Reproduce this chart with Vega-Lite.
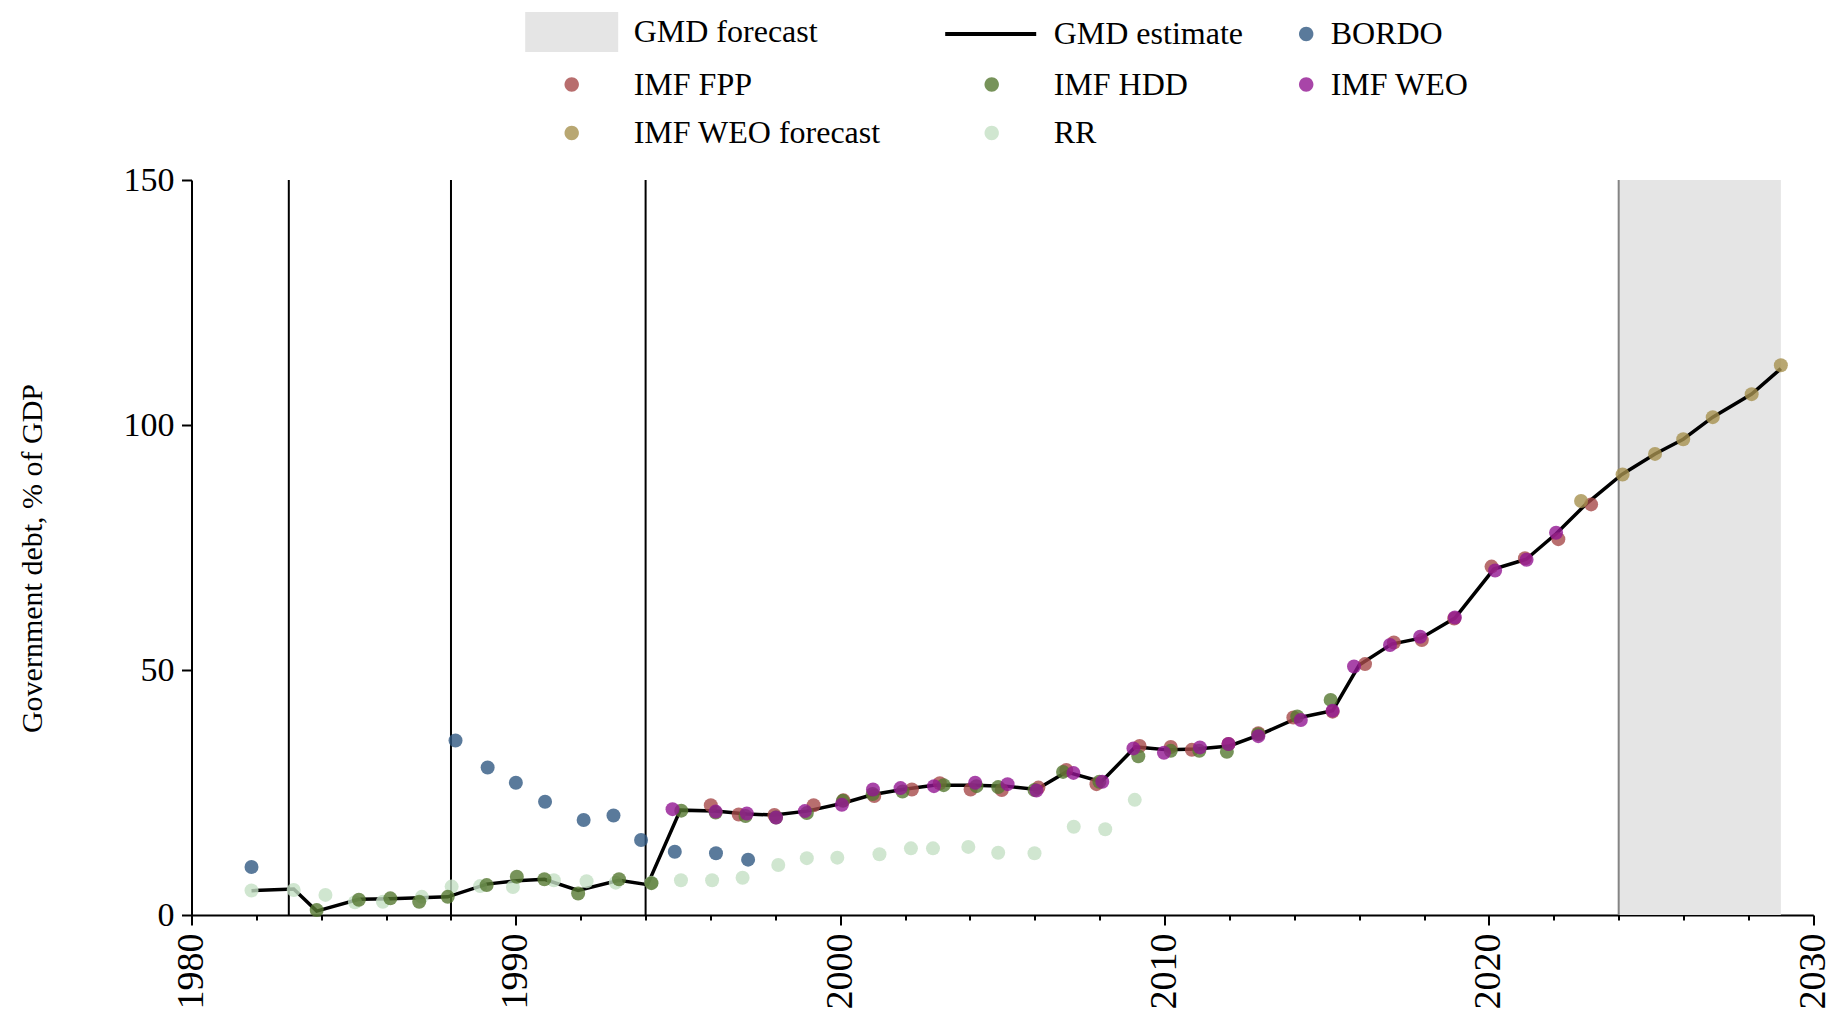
{
  "$schema": "https://vega.github.io/schema/vega-lite/v6.json",
  "width": 1621.8,
  "height": 735,
  "autosize": {"type": "none"},
  "padding": {"left": 191.5, "top": 180, "right": 23.7, "bottom": 102},
  "background": "white",
  "config": {
    "font": "Liberation Serif",
    "view": {"stroke": null},
    "axis": {
      "grid": false,
      "domainColor": "#000000",
      "domainWidth": 2,
      "tickColor": "#000000",
      "tickWidth": 2,
      "labelColor": "#000000",
      "titleColor": "#000000",
      "labelFont": "Liberation Serif",
      "titleFont": "Liberation Serif",
      "titleFontWeight": "normal"
    },
    "legend": {"labelFont": "Liberation Serif"}
  },
  "datasets": {
    "shade": [{"series": "GMD forecast", "start": 2024, "end": 2029}],
    "breaks": [{"year": 1983}, {"year": 1988}, {"year": 1994}],
    "fcstart": [{"year": 2024}],
    "gmd": [
      {"series": "GMD estimate", "year": 1981.85, "value": 4.96},
      {"series": "GMD estimate", "year": 1983.15, "value": 5.3},
      {"series": "GMD estimate", "year": 1983.86, "value": 0.8},
      {"series": "GMD estimate", "year": 1985.16, "value": 3.2},
      {"series": "GMD estimate", "year": 1986.13, "value": 3.3},
      {"series": "GMD estimate", "year": 1987.04, "value": 3.5},
      {"series": "GMD estimate", "year": 1987.9, "value": 3.7},
      {"series": "GMD estimate", "year": 1989.1, "value": 6.3},
      {"series": "GMD estimate", "year": 1990.03, "value": 7.0},
      {"series": "GMD estimate", "year": 1990.88, "value": 7.3},
      {"series": "GMD estimate", "year": 1991.92, "value": 5.0},
      {"series": "GMD estimate", "year": 1993.18, "value": 7.1},
      {"series": "GMD estimate", "year": 1994.06, "value": 6.2},
      {"series": "GMD estimate", "year": 1995.07, "value": 21.4},
      {"series": "GMD estimate", "year": 1996.14, "value": 21.2},
      {"series": "GMD estimate", "year": 1997.12, "value": 20.6},
      {"series": "GMD estimate", "year": 1997.97, "value": 20.4},
      {"series": "GMD estimate", "year": 1998.97, "value": 21.2},
      {"series": "GMD estimate", "year": 2000.08, "value": 22.8},
      {"series": "GMD estimate", "year": 2001.01, "value": 24.6},
      {"series": "GMD estimate", "year": 2001.92, "value": 25.6},
      {"series": "GMD estimate", "year": 2002.89, "value": 26.5},
      {"series": "GMD estimate", "year": 2004.1, "value": 26.5},
      {"series": "GMD estimate", "year": 2005.1, "value": 26.3},
      {"series": "GMD estimate", "year": 2006.05, "value": 25.6},
      {"series": "GMD estimate", "year": 2006.97, "value": 29.2},
      {"series": "GMD estimate", "year": 2008.05, "value": 27.2},
      {"series": "GMD estimate", "year": 2009.1, "value": 34.3},
      {"series": "GMD estimate", "year": 2010.1, "value": 33.7},
      {"series": "GMD estimate", "year": 2011.0, "value": 33.9},
      {"series": "GMD estimate", "year": 2012.0, "value": 34.5},
      {"series": "GMD estimate", "year": 2012.9, "value": 36.7},
      {"series": "GMD estimate", "year": 2014.1, "value": 40.2},
      {"series": "GMD estimate", "year": 2015.18, "value": 41.7},
      {"series": "GMD estimate", "year": 2016.0, "value": 51.0},
      {"series": "GMD estimate", "year": 2017.0, "value": 55.3},
      {"series": "GMD estimate", "year": 2017.9, "value": 56.5},
      {"series": "GMD estimate", "year": 2018.95, "value": 60.6},
      {"series": "GMD estimate", "year": 2020.15, "value": 70.6},
      {"series": "GMD estimate", "year": 2021.15, "value": 72.6},
      {"series": "GMD estimate", "year": 2022.07, "value": 77.8},
      {"series": "GMD estimate", "year": 2023.0, "value": 83.9},
      {"series": "GMD estimate", "year": 2024.1, "value": 89.9},
      {"series": "GMD estimate", "year": 2025.12, "value": 94.1},
      {"series": "GMD estimate", "year": 2025.99, "value": 97.1},
      {"series": "GMD estimate", "year": 2026.9, "value": 101.6},
      {"series": "GMD estimate", "year": 2028.1, "value": 106.3},
      {"series": "GMD estimate", "year": 2029.0, "value": 111.5}
    ],
    "pts": [
      {"series": "BORDO", "year": 1981.85, "value": 9.8},
      {"series": "BORDO", "year": 1988.14, "value": 35.6},
      {"series": "BORDO", "year": 1989.13, "value": 30.1},
      {"series": "BORDO", "year": 1990.0, "value": 27.0},
      {"series": "BORDO", "year": 1990.9, "value": 23.1},
      {"series": "BORDO", "year": 1992.09, "value": 19.4},
      {"series": "BORDO", "year": 1993.01, "value": 20.3},
      {"series": "BORDO", "year": 1993.86, "value": 15.3},
      {"series": "BORDO", "year": 1994.9, "value": 12.9},
      {"series": "BORDO", "year": 1996.17, "value": 12.6},
      {"series": "BORDO", "year": 1997.16, "value": 11.3},
      {"series": "RR", "year": 1981.85, "value": 5.0},
      {"series": "RR", "year": 1983.15, "value": 5.1},
      {"series": "RR", "year": 1984.13, "value": 4.1},
      {"series": "RR", "year": 1985.04, "value": 2.6},
      {"series": "RR", "year": 1985.9, "value": 2.7},
      {"series": "RR", "year": 1987.1, "value": 3.7},
      {"series": "RR", "year": 1988.02, "value": 5.8},
      {"series": "RR", "year": 1988.9, "value": 5.9},
      {"series": "RR", "year": 1989.91, "value": 5.7},
      {"series": "RR", "year": 1991.17, "value": 7.1},
      {"series": "RR", "year": 1992.18, "value": 6.9},
      {"series": "RR", "year": 1993.08, "value": 6.6},
      {"series": "RR", "year": 1994.18, "value": 6.6},
      {"series": "RR", "year": 1995.09, "value": 7.1},
      {"series": "RR", "year": 1996.05, "value": 7.1},
      {"series": "RR", "year": 1996.99, "value": 7.6},
      {"series": "RR", "year": 1998.09, "value": 10.2},
      {"series": "RR", "year": 1998.97, "value": 11.6},
      {"series": "RR", "year": 1999.91, "value": 11.7},
      {"series": "RR", "year": 2001.21, "value": 12.4},
      {"series": "RR", "year": 2002.18, "value": 13.6},
      {"series": "RR", "year": 2002.86, "value": 13.6},
      {"series": "RR", "year": 2003.95, "value": 13.9},
      {"series": "RR", "year": 2004.87, "value": 12.7},
      {"series": "RR", "year": 2005.99, "value": 12.6},
      {"series": "RR", "year": 2007.2, "value": 18.0},
      {"series": "RR", "year": 2008.17, "value": 17.5},
      {"series": "RR", "year": 2009.08, "value": 23.5},
      {"series": "IMF FPP", "year": 1996.01, "value": 22.4},
      {"series": "IMF FPP", "year": 1996.87, "value": 20.5},
      {"series": "IMF FPP", "year": 1997.97, "value": 20.4},
      {"series": "IMF FPP", "year": 1999.18, "value": 22.4},
      {"series": "IMF FPP", "year": 2000.1, "value": 23.4},
      {"series": "IMF FPP", "year": 2001.05, "value": 24.3},
      {"series": "IMF FPP", "year": 2002.21, "value": 25.6},
      {"series": "IMF FPP", "year": 2003.07, "value": 26.9},
      {"series": "IMF FPP", "year": 2004.02, "value": 25.6},
      {"series": "IMF FPP", "year": 2004.98, "value": 25.5},
      {"series": "IMF FPP", "year": 2006.11, "value": 26.0},
      {"series": "IMF FPP", "year": 2006.97, "value": 29.6},
      {"series": "IMF FPP", "year": 2007.9, "value": 26.7},
      {"series": "IMF FPP", "year": 2009.23, "value": 34.5},
      {"series": "IMF FPP", "year": 2010.19, "value": 34.3},
      {"series": "IMF FPP", "year": 2010.84, "value": 33.7},
      {"series": "IMF FPP", "year": 2011.97, "value": 34.9},
      {"series": "IMF FPP", "year": 2012.89, "value": 37.1},
      {"series": "IMF FPP", "year": 2013.97, "value": 40.3},
      {"series": "IMF FPP", "year": 2015.18, "value": 41.5},
      {"series": "IMF FPP", "year": 2016.18, "value": 51.2},
      {"series": "IMF FPP", "year": 2017.07, "value": 55.6},
      {"series": "IMF FPP", "year": 2017.93, "value": 56.1},
      {"series": "IMF FPP", "year": 2018.93, "value": 60.5},
      {"series": "IMF FPP", "year": 2020.08, "value": 71.1},
      {"series": "IMF FPP", "year": 2021.11, "value": 72.8},
      {"series": "IMF FPP", "year": 2022.14, "value": 76.7},
      {"series": "IMF FPP", "year": 2023.15, "value": 83.8},
      {"series": "IMF HDD", "year": 1983.86, "value": 1.0},
      {"series": "IMF HDD", "year": 1985.16, "value": 3.1},
      {"series": "IMF HDD", "year": 1986.13, "value": 3.4},
      {"series": "IMF HDD", "year": 1987.02, "value": 2.7},
      {"series": "IMF HDD", "year": 1987.9, "value": 3.7},
      {"series": "IMF HDD", "year": 1989.1, "value": 6.1},
      {"series": "IMF HDD", "year": 1990.03, "value": 7.8},
      {"series": "IMF HDD", "year": 1990.88, "value": 7.3},
      {"series": "IMF HDD", "year": 1991.92, "value": 4.4},
      {"series": "IMF HDD", "year": 1993.18, "value": 7.3},
      {"series": "IMF HDD", "year": 1994.18, "value": 6.5},
      {"series": "IMF HDD", "year": 1995.1, "value": 21.3},
      {"series": "IMF HDD", "year": 1996.16, "value": 20.9},
      {"series": "IMF HDD", "year": 1997.08, "value": 20.2},
      {"series": "IMF HDD", "year": 1998.02, "value": 19.9},
      {"series": "IMF HDD", "year": 1998.97, "value": 20.8},
      {"series": "IMF HDD", "year": 2000.08, "value": 23.3},
      {"series": "IMF HDD", "year": 2001.0, "value": 24.7},
      {"series": "IMF HDD", "year": 2001.92, "value": 25.2},
      {"series": "IMF HDD", "year": 2003.19, "value": 26.5},
      {"series": "IMF HDD", "year": 2004.2, "value": 26.3},
      {"series": "IMF HDD", "year": 2004.87, "value": 26.1},
      {"series": "IMF HDD", "year": 2005.99, "value": 25.5},
      {"series": "IMF HDD", "year": 2006.87, "value": 29.2},
      {"series": "IMF HDD", "year": 2007.99, "value": 27.2},
      {"series": "IMF HDD", "year": 2009.19, "value": 32.4},
      {"series": "IMF HDD", "year": 2010.19, "value": 33.5},
      {"series": "IMF HDD", "year": 2011.07, "value": 33.5},
      {"series": "IMF HDD", "year": 2011.92, "value": 33.3},
      {"series": "IMF HDD", "year": 2012.89, "value": 36.9},
      {"series": "IMF HDD", "year": 2014.09, "value": 40.5},
      {"series": "IMF HDD", "year": 2015.12, "value": 43.9},
      {"series": "IMF WEO", "year": 1994.83, "value": 21.6},
      {"series": "IMF WEO", "year": 1996.16, "value": 21.1},
      {"series": "IMF WEO", "year": 1997.12, "value": 20.7},
      {"series": "IMF WEO", "year": 1998.02, "value": 19.9},
      {"series": "IMF WEO", "year": 1998.91, "value": 21.2},
      {"series": "IMF WEO", "year": 2000.05, "value": 22.5},
      {"series": "IMF WEO", "year": 2001.01, "value": 25.6},
      {"series": "IMF WEO", "year": 2001.86, "value": 25.9},
      {"series": "IMF WEO", "year": 2002.89, "value": 26.3},
      {"series": "IMF WEO", "year": 2004.16, "value": 27.0},
      {"series": "IMF WEO", "year": 2005.16, "value": 26.7},
      {"series": "IMF WEO", "year": 2006.05, "value": 25.4},
      {"series": "IMF WEO", "year": 2007.19, "value": 29.0},
      {"series": "IMF WEO", "year": 2008.08, "value": 27.2},
      {"series": "IMF WEO", "year": 2009.04, "value": 34.0},
      {"series": "IMF WEO", "year": 2009.98, "value": 33.1},
      {"series": "IMF WEO", "year": 2011.09, "value": 34.2},
      {"series": "IMF WEO", "year": 2011.97, "value": 34.9},
      {"series": "IMF WEO", "year": 2012.89, "value": 36.5},
      {"series": "IMF WEO", "year": 2014.2, "value": 39.8},
      {"series": "IMF WEO", "year": 2015.18, "value": 41.7},
      {"series": "IMF WEO", "year": 2015.84, "value": 50.7},
      {"series": "IMF WEO", "year": 2016.95, "value": 55.1},
      {"series": "IMF WEO", "year": 2017.88, "value": 56.8},
      {"series": "IMF WEO", "year": 2018.95, "value": 60.7},
      {"series": "IMF WEO", "year": 2020.19, "value": 70.3},
      {"series": "IMF WEO", "year": 2021.16, "value": 72.5},
      {"series": "IMF WEO", "year": 2022.07, "value": 78.0},
      {"series": "IMF WEO forecast", "year": 2022.84, "value": 84.5},
      {"series": "IMF WEO forecast", "year": 2024.12, "value": 89.9},
      {"series": "IMF WEO forecast", "year": 2025.12, "value": 94.1},
      {"series": "IMF WEO forecast", "year": 2025.99, "value": 97.1},
      {"series": "IMF WEO forecast", "year": 2026.9, "value": 101.6},
      {"series": "IMF WEO forecast", "year": 2028.1, "value": 106.3},
      {"series": "IMF WEO forecast", "year": 2029.0, "value": 112.2}
    ]
  },
  "layer": [
    {
      "data": {"name": "shade"},
      "mark": {"type": "rect"},
      "encoding": {
        "x": {"field": "start", "type": "quantitative", "title": null, "scale": {"domain": [1980, 2030], "nice": false, "zero": false}},
        "x2": {"field": "end"},
        "y": {"datum": 0, "type": "quantitative"},
        "y2": {"datum": 150},
        "color": {
          "field": "series", "type": "nominal",
          "scale": {
            "domain": ["GMD forecast", "GMD estimate", "BORDO", "IMF FPP", "IMF HDD", "IMF WEO", "IMF WEO forecast", "RR"],
            "range": ["#e5e5e5", "#000000", "#315982", "#a64a4a", "#557831", "#921692", "#a6914f", "#c4e0c4"]
          },
          "legend": {
            "title": null,
            "orient": "none",
            "legendX": 339.2,
            "legendY": -164,
            "columns": 3,
            "direction": "horizontal",
            "padding": 0,
            "symbolSize": 1600,
            "symbolStrokeWidth": 3,
            "labelFont": "Liberation Serif",
            "labelFontSize": 32,
            "labelColor": "#000000",
            "labelOffset": 60,
            "labelLimit": 0,
            "columnPadding": 55,
            "rowPadding": 16.5,
            "encode": {
              "entries": {
                "update": {
                  "height": {"value": 43}
                }
              },
              "symbols": {
                "update": {
                  "shape": {"signal": "datum.value === 'GMD forecast' ? 'M-1.075,-1H3.575V1H-1.075Z' : datum.value === 'GMD estimate' ? 'M-1.075,0H3.475' : (datum.value === 'BORDO' || datum.value === 'IMF WEO') ? 'M-0.715,0A0.36,0.36,0,1,1,-1.435,0A0.36,0.36,0,1,1,-0.715,0Z' : 'M1.61,0A0.36,0.36,0,1,1,0.89,0A0.36,0.36,0,1,1,1.61,0Z'"},
                  "size": {"value": 1600},
                  "fill": {"signal": "datum.value === 'GMD estimate' ? 'transparent' : scale('color', datum.value)"},
                  "stroke": {"signal": "datum.value === 'GMD estimate' ? '#000000' : 'transparent'"},
                  "strokeWidth": {"signal": "datum.value === 'GMD estimate' ? 4 : 0"},
                  "opacity": {"signal": "(datum.value === 'GMD forecast' || datum.value === 'GMD estimate') ? 1 : 0.8"},
                  "fillOpacity": {"value": 1},
                  "strokeOpacity": {"value": 1}
                }
              },
              "labels": {
                "update": {
                  "x": {"signal": "(datum.value === 'BORDO' || datum.value === 'IMF WEO') ? 19 : 103"},
                  "font": {"value": "Liberation Serif"}
                }
              }
            }
          }
        }
      }
    },
    {
      "data": {"name": "breaks"},
      "mark": {"type": "rule", "color": "#000000", "strokeWidth": 2},
      "encoding": {
        "x": {"field": "year", "type": "quantitative", "title": null},
        "y": {"datum": 0, "type": "quantitative"},
        "y2": {"datum": 150}
      }
    },
    {
      "data": {"name": "fcstart"},
      "mark": {"type": "rule", "color": "#858585", "strokeWidth": 2},
      "encoding": {
        "x": {"field": "year", "type": "quantitative", "title": null},
        "y": {"datum": 0, "type": "quantitative"},
        "y2": {"datum": 150}
      }
    },
    {
      "data": {"name": "gmd"},
      "mark": {"type": "line", "strokeWidth": 3.5},
      "encoding": {
        "x": {
          "field": "year", "type": "quantitative", "title": null,
          "scale": {"domain": [1980, 2030], "nice": false, "zero": false},
          "axis": {
            "title": null,
            "values": [1980,1981,1982,1983,1984,1985,1986,1987,1988,1989,1990,1991,1992,1993,1994,1995,1996,1997,1998,1999,2000,2001,2002,2003,2004,2005,2006,2007,2008,2009,2010,2011,2012,2013,2014,2015,2016,2017,2018,2019,2020,2021,2022,2023,2024,2025,2026,2027,2028,2029,2030],
            "format": "d",
            "labelExpr": "datum.value % 10 === 0 ? datum.label : ''",
            "labelAngle": -90,
            "labelFontSize": 38,
            "labelPadding": 8,
            "labelFlush": false,
            "labelOverlap": false,
            "tickSize": {"condition": {"test": "datum.value % 10 === 0", "value": 10}, "value": 5}
          }
        },
        "y": {
          "field": "value", "type": "quantitative", "title": "Government debt, % of GDP",
          "scale": {"domain": [0, 150], "nice": false},
          "axis": {
            "values": [0, 50, 100, 150],
            "tickSize": 10,
            "labelPadding": 7.5,
            "labelFontSize": 34,
            "titleFontSize": 30,
            "titlePadding": 76,
            "titleY": 378
          }
        },
        "color": {
          "field": "series", "type": "nominal",
          "scale": {
            "domain": ["GMD forecast", "GMD estimate", "BORDO", "IMF FPP", "IMF HDD", "IMF WEO", "IMF WEO forecast", "RR"],
            "range": ["#e5e5e5", "#000000", "#315982", "#a64a4a", "#557831", "#921692", "#a6914f", "#c4e0c4"]
          }
        }
      }
    },
    {
      "data": {"name": "pts"},
      "mark": {"type": "circle", "size": 196, "opacity": 0.8},
      "encoding": {
        "x": {"field": "year", "type": "quantitative", "title": null},
        "y": {"field": "value", "type": "quantitative", "title": "Government debt, % of GDP"},
        "color": {
          "field": "series", "type": "nominal",
          "scale": {
            "domain": ["GMD forecast", "GMD estimate", "BORDO", "IMF FPP", "IMF HDD", "IMF WEO", "IMF WEO forecast", "RR"],
            "range": ["#e5e5e5", "#000000", "#315982", "#a64a4a", "#557831", "#921692", "#a6914f", "#c4e0c4"]
          }
        }
      }
    }
  ]
}
